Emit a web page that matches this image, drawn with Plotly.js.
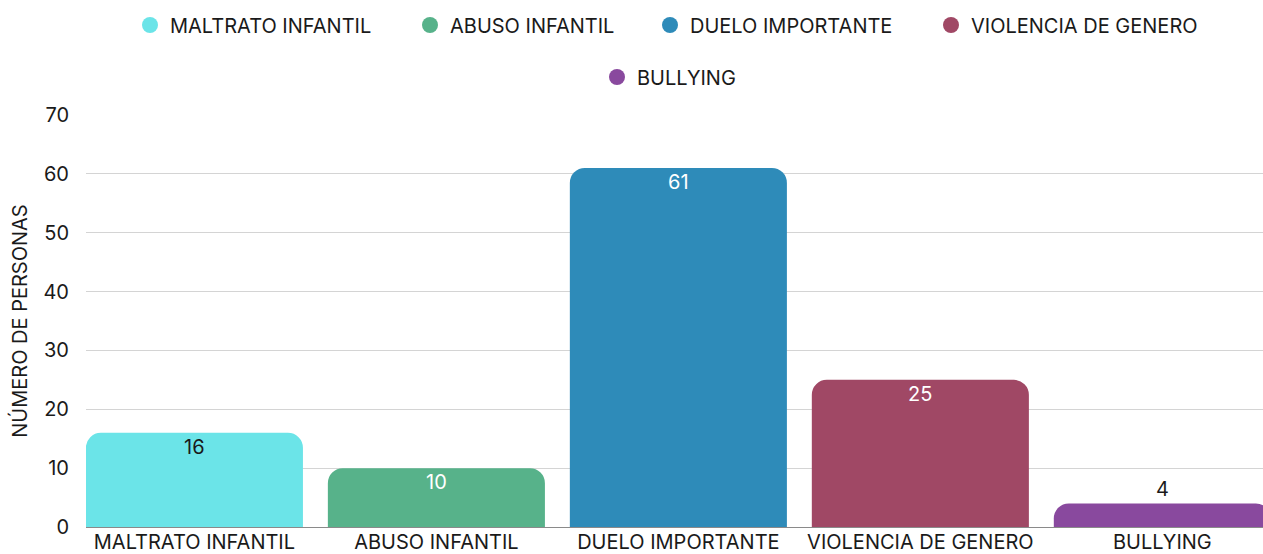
<!DOCTYPE html>
<html>
<head>
<meta charset="utf-8">
<script src="https://cdn.plot.ly/plotly-3.0.1.min.js"></script>
<style>html,body{margin:0;padding:0;background:#fff;}#chart{width:1263px;height:554px;}</style>
</head>
<body>
<div id="chart"></div>
<script>
const categories = ["MALTRATO INFANTIL", "ABUSO INFANTIL", "DUELO IMPORTANTE", "VIOLENCIA DE GENERO", "BULLYING"];
const values = [16, 10, 61, 25, 4];
const colors = ["#6BE4E8", "#57B28A", "#2E8BB9", "#A04865", "#89499E"];
const labelColors = ["#1a1a1a", "#ffffff", "#ffffff", "#ffffff", "#1a1a1a"];
const yTicks = [0, 10, 20, 30, 40, 50, 60, 70];

const FONT = "Inter, 'Noto Sans', sans-serif";
const FS = 20;
// legend entries: circle centre (px) and row centre (px)
const legendCentersX = [150, 430, 670, 951, 617];
const legendRowsY = [25, 25, 25, 25, 77];

const W = 1263, H = 554, M = { l: 86, r: 0, t: 115, b: 27 };
const PW = W - M.l - M.r, PH = H - M.t - M.b;

const traces = [];
categories.forEach((c, i) => {
  traces.push({
    type: "bar",
    x: [c],
    y: [values[i]],
    name: c,
    showlegend: false,
    marker: { color: colors[i], cornerradius: 15 },
    hoverinfo: "x+y"
  });
});
const legends = {};
categories.forEach((c, i) => {
  const key = i === 0 ? "legend" : "legend" + (i + 1);
  traces.push({
    type: "scatter",
    mode: "markers",
    x: [c],
    y: [null],
    name: c,
    legend: key,
    marker: { color: colors[i], size: 20, symbol: "circle" },
    hoverinfo: "skip"
  });
  legends[key] = {
    orientation: "h",
    x: (legendCentersX[i] - 20 - M.l) / PW,
    xanchor: "left",
    y: (H - M.b - legendRowsY[i]) / PH,
    yanchor: "middle",
    font: { family: FONT, size: FS, color: "#1a1a1a" },
    itemwidth: 30,
    borderwidth: 0,
    bgcolor: "rgba(0,0,0,0)"
  };
});

const annotations = categories.map((c, i) => ({
  x: c,
  y: values[i],
  xref: "x",
  yref: "y",
  text: String(values[i]),
  showarrow: false,
  yanchor: "middle",
  yshift: values[i] >= 8 ? -14 : 14,
  font: { family: FONT, size: FS, color: labelColors[i] }
}));

const layout = Object.assign({
  width: W,
  height: H,
  margin: M,
  paper_bgcolor: "#ffffff",
  plot_bgcolor: "#ffffff",
  font: { family: FONT, size: FS, color: "#1a1a1a" },
  barmode: "overlay",
  bargap: 0.103,
  xaxis: {
    type: "category",
    range: [-0.448, 4.416],
    showgrid: false,
    ticks: "",
    ticklabelstandoff: 1,
    tickfont: { family: FONT, size: FS, color: "#1a1a1a" },
    automargin: false,
    fixedrange: true
  },
  yaxis: {
    range: [0, 70],
    tickvals: yTicks,
    ticktext: yTicks.map(String),
    showgrid: true,
    gridcolor: "#d4d4d4",
    gridwidth: 1,
    zeroline: true,
    zerolinecolor: "#8a8a8a",
    zerolinewidth: 1,
    ticks: "",
    ticklabelstandoff: 16,
    tickfont: { family: FONT, size: FS, color: "#1a1a1a" },
    title: { text: "NÚMERO DE PERSONAS", font: { family: FONT, size: 20, color: "#1a1a1a" }, standoff: 10 },
    automargin: false,
    fixedrange: true
  },
  annotations: annotations,
  showlegend: true
}, legends);

Plotly.newPlot("chart", traces, layout, { displayModeBar: false, staticPlot: true });
</script>
</body>
</html>
